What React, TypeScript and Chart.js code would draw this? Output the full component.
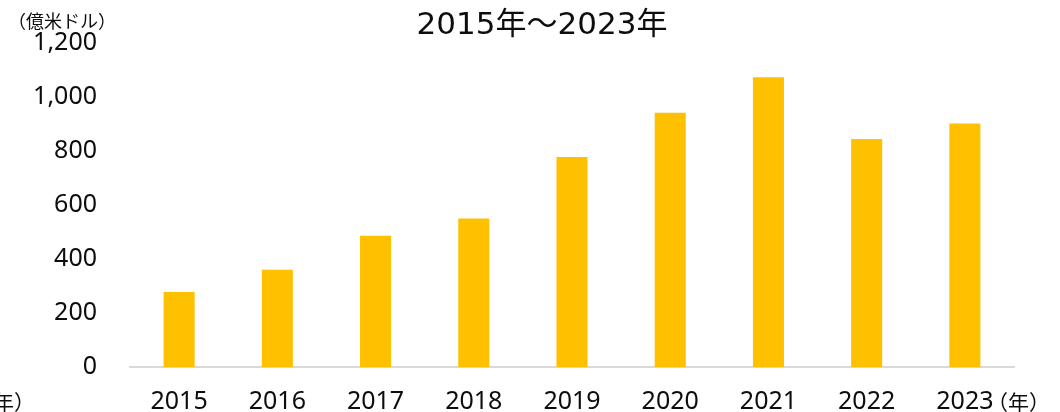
import React, { useEffect, useRef } from "react";
import { Chart, registerables } from "chart.js";

Chart.register(...registerables);

const categories: string[] = ["2015", "2016", "2017", "2018", "2019", "2020", "2021", "2022", "2023"];
const values: number[] = [278, 360, 486, 550, 778, 942, 1073, 844, 902];
const yTicks: number[] = [0, 200, 400, 600, 800, 1000, 1200];
const titleText = "2015年～2023年";
const yUnitText = "（億米ドル）";
const xUnitText = "（年）";

const FONT = "'Noto Sans', 'Noto Sans CJK JP', sans-serif";
const TITLE_FONT = "'DejaVu Sans', 'Noto Sans CJK JP', sans-serif";
const CJK = "'Noto Sans CJK JP', 'Noto Sans', sans-serif";
const TEXT = "#0d0d0d";

const textPlugin = {
  id: "extraText",
  afterDraw(chart: any) {
    const ctx = chart.ctx;
    const area = chart.chartArea;
    const xScale = chart.scales.x;
    ctx.save();
    ctx.fillStyle = TEXT;
    ctx.font = `31px ${TITLE_FONT}`;
    ctx.textAlign = "center";
    ctx.textBaseline = "middle";
    ctx.fillText(titleText, 542, 26);
    ctx.font = `18px ${CJK}`;
    ctx.textAlign = "left";
    ctx.fillText(yUnitText, 8, 21);
    const lastX = xScale.getPixelForValue(categories.length - 1);
    ctx.font = `21px ${CJK}`;
    ctx.fillText(xUnitText, lastX + 22, area.bottom + 35);
    ctx.textAlign = "right";
    ctx.fillText(xUnitText, 35, area.bottom + 35);
    ctx.restore();
  },
};

export default function App() {
  const ref = useRef<HTMLCanvasElement | null>(null);
  useEffect(() => {
    if (!ref.current) return;
    const chart = new Chart(ref.current, {
      type: "bar",
      data: {
        labels: categories,
        datasets: [
          {
            data: values,
            backgroundColor: "#FFC000",
            borderWidth: 0,
            categoryPercentage: 1,
            barPercentage: 0.316,
          },
        ],
      },
      options: {
        animation: false,
        responsive: true,
        maintainAspectRatio: false,
        layout: { padding: { top: 43, right: 46, bottom: 0, left: 0 } },
        plugins: {
          legend: { display: false },
          title: { display: false },
          tooltip: { enabled: false },
        },
        scales: {
          x: {
            grid: { display: false, drawTicks: false },
            border: { display: true, color: "#D9D9D9", width: 2 },
            ticks: {
              color: TEXT,
              font: { family: FONT, size: 25 },
              padding: 20,
              maxRotation: 0,
            },
            afterFit: (s: any) => {
              s.height = 45;
              s.paddingLeft = 0;
              s.paddingRight = 0;
            },
          },
          y: {
            min: 0,
            max: yTicks[yTicks.length - 1],
            grid: { display: false, drawTicks: false },
            border: { display: false },
            afterBuildTicks: (s: any) => {
              s.ticks = yTicks.map((v) => ({ value: v }));
            },
            ticks: {
              color: TEXT,
              font: { family: FONT, size: 25 },
              padding: 33,
              callback: (v: any) => Number(v).toLocaleString("en-US"),
            },
            afterFit: (s: any) => {
              s.width = 130;
              s.paddingTop = 0;
              s.paddingBottom = 0;
            },
          },
        },
      },
      plugins: [textPlugin],
    });
    return () => chart.destroy();
  }, []);
  return (
    <div style={{ position: "absolute", left: 0, top: 0, width: 1060, height: 412 }}>
      <canvas ref={ref} />
    </div>
  );
}
